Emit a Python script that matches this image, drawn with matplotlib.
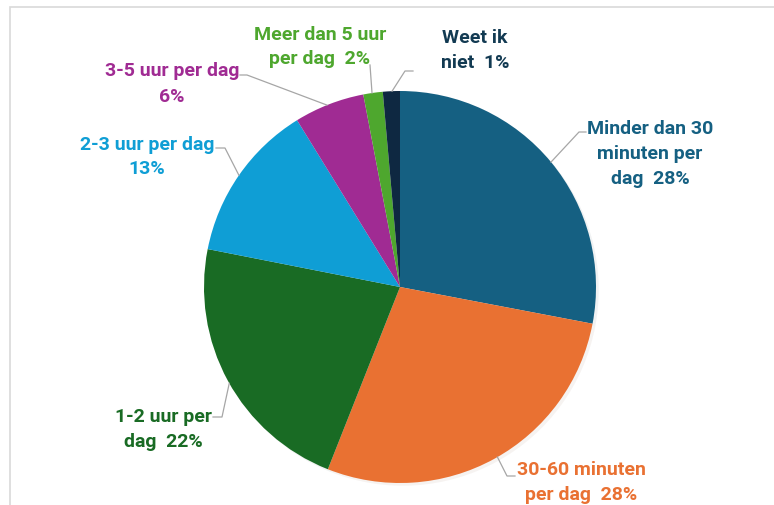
import numpy as np
import matplotlib
matplotlib.use("Agg")
import matplotlib.pyplot as plt
from matplotlib.patches import Rectangle

# ---- data ----
categories = ["Minder dan 30 minuten per dag", "30-60 minuten per dag", "1-2 uur per dag",
              "2-3 uur per dag", "3-5 uur per dag", "Meer dan 5 uur per dag", "Weet ik niet"]
values = [28.0, 28.0, 22.1, 13.1, 5.8, 1.6, 1.4]
label_texts = ["Minder dan 30\nminuten per\ndag  28%", "30-60 minuten\nper dag  28%",
               "1-2 uur per\ndag  22%", "2-3 uur per dag\n13%", "3-5 uur per dag\n6%",
               "Meer dan 5 uur\nper dag  2%", "Weet ik\nniet  1%"]
colors = ["#156082", "#E97132", "#196B24", "#0F9ED5", "#A02B93", "#4EA72E", "#0E2841"]
label_colors = ["#156082", "#E97132", "#196B24", "#0F9ED5", "#A02B93", "#4EA72E", "#123A52"]

# ---- layout (pixel based) ----
W, H = 774, 506
CX, CY, R = 400, 288, 196

def d(px, py):
    return ((px - CX) / R, (CY - py) / R)

# label centre, elbow point, end of horizontal stub (pixels)
label_pos = [(650, 154), (581, 483), (163, 430), (147, 157), (172, 84), (320, 47), (475, 50)]
elbows = [(579, 133), (507, 477), (222, 418), (225, 149), (247, 76), (370, 66), (405, 72)]
stubs = [(586, 133), (515, 477), (213, 418), (216, 149), (240, 76), (370, 66), (413, 72)]
edge_frac = [0.5, 0.51, 0.51, 0.5, 0.53, 0.55, 0.46]

plt.rcParams['font.family'] = ['Roboto', 'DejaVu Sans']

fig = plt.figure(figsize=(W / 100, H / 100), dpi=100)
ax = fig.add_axes([0, 0, 1, 1])

# frame
x0, y0 = d(10, 8)
ax.add_patch(Rectangle((x0, -10), 10, y0 + 10, fill=False, edgecolor="#D9D9D9", lw=1.2,
                       transform=ax.transData, zorder=0))

wedges, _ = ax.pie(values, colors=colors, startangle=90, counterclock=False, radius=1.0,
                   center=(0, 0), frame=True,
                   wedgeprops=dict(linewidth=0),
                   shadow=dict(ox=0.01, oy=-0.01, alpha=0.06, shade=0.5))
ax.set_xlim((0 - CX) / R, (W - CX) / R)
ax.set_ylim((CY - H) / R, CY / R)
ax.set_aspect('equal')
ax.axis('off')

for i, w in enumerate(wedges):
    th1, th2 = w.theta1, w.theta2
    ang = np.deg2rad(th1 + (th2 - th1) * edge_frac[i])
    ex, ey = np.cos(ang), np.sin(ang)
    bx, by = d(*elbows[i])
    sx, sy = d(*stubs[i])
    ax.plot([ex, bx, sx], [ey, by, sy], color="#A6A6A6", lw=0.9, zorder=3)
    lx, ly = d(*label_pos[i])
    ax.text(lx, ly, label_texts[i], ha='center', va='center', color=label_colors[i],
            fontsize=14, fontweight='bold', linespacing=1.5, zorder=4)

fig.savefig("out.png", dpi=100, facecolor="white")
